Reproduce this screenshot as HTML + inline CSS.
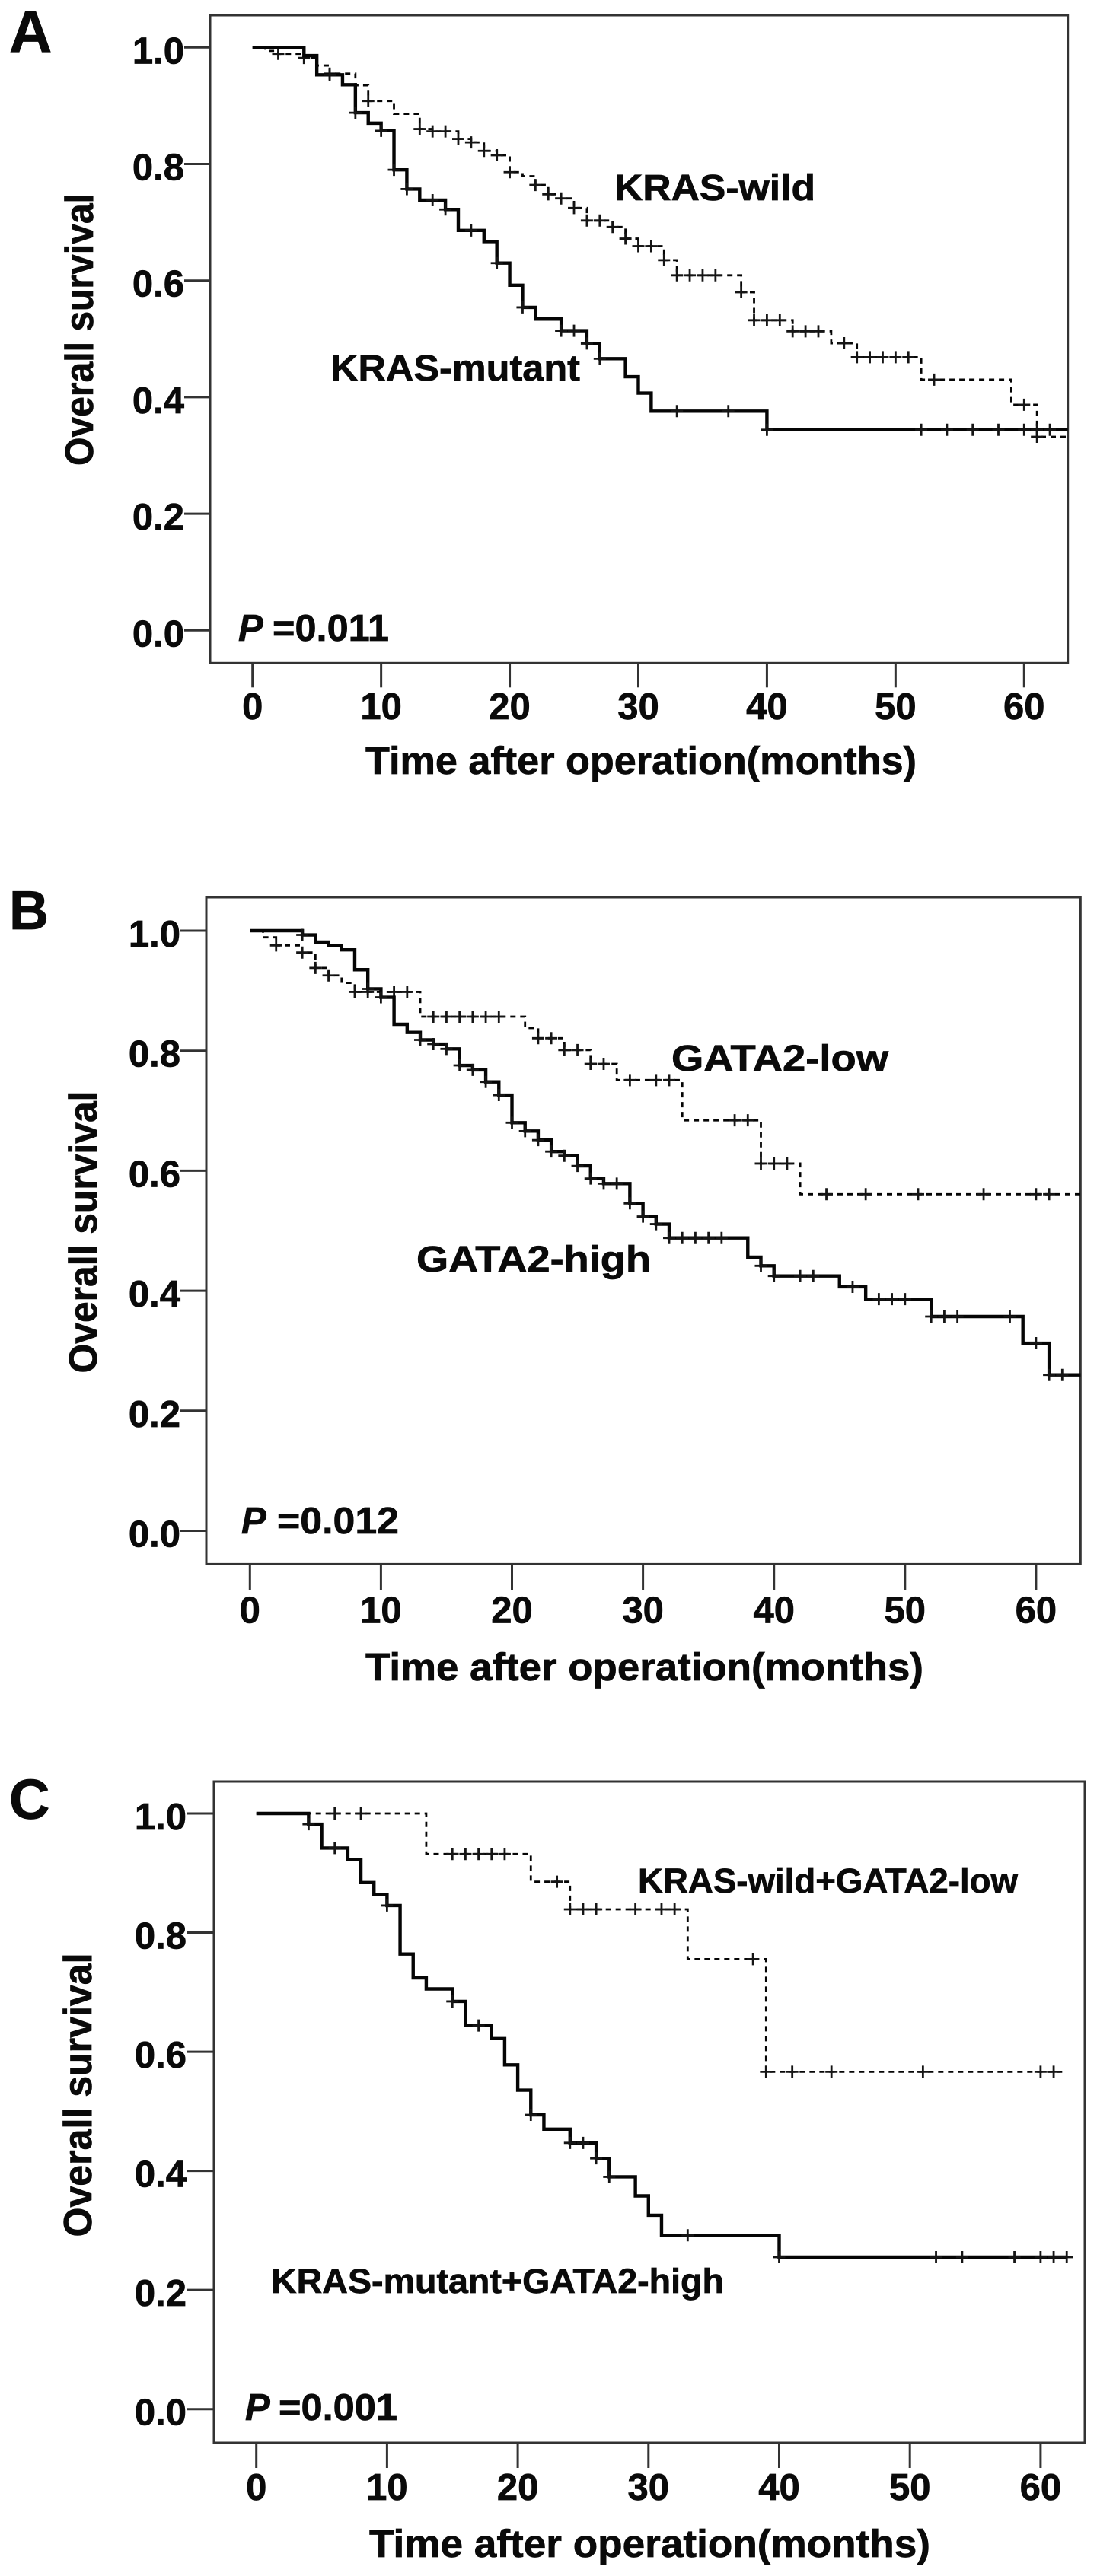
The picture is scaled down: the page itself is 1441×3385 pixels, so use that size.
<!DOCTYPE html>
<html lang="en">
<head>
<meta charset="utf-8">
<title>Overall survival Kaplan-Meier curves</title>
<style>
html,body{margin:0;padding:0;background:#fff;}
svg{display:block;}
text{font-family:"Liberation Sans",Arial,sans-serif;font-weight:700;fill:#0a0a0a;stroke:#0a0a0a;stroke-width:0.7px;}
</style>
</head>
<body>
<svg id="figure" xmlns="http://www.w3.org/2000/svg" width="1441" height="3385" viewBox="0 0 1441 3385">
  <rect x="0" y="0" width="1441" height="3385" fill="#fff"/>

  <g id="panel-a">
    <text x="12" y="68" font-size="78">A</text>
    <text transform="translate(122,433) rotate(-90)" text-anchor="middle" font-size="52" textLength="358" lengthAdjust="spacingAndGlyphs">Overall survival</text>
    <text x="480" y="1017" font-size="51" textLength="724" lengthAdjust="spacingAndGlyphs">Time after operation(months)</text>
    <text x="313" y="842" font-size="49" font-style="italic">P</text>
    <text x="358" y="842" font-size="49" textLength="153" lengthAdjust="spacingAndGlyphs">=0.011</text>
    <text x="807" y="263" font-size="48" textLength="264" lengthAdjust="spacingAndGlyphs">KRAS-wild</text>
    <text x="434" y="500" font-size="48" textLength="328" lengthAdjust="spacingAndGlyphs">KRAS-mutant</text>
  </g>

  <g id="panel-b">
    <text x="12" y="1221" font-size="72">B</text>
    <text transform="translate(127,1619) rotate(-90)" text-anchor="middle" font-size="52" textLength="371" lengthAdjust="spacingAndGlyphs">Overall survival</text>
    <text x="480" y="2208" font-size="51" textLength="733" lengthAdjust="spacingAndGlyphs">Time after operation(months)</text>
    <text x="317" y="2015" font-size="49" font-style="italic">P</text>
    <text x="364" y="2015" font-size="49" textLength="160" lengthAdjust="spacingAndGlyphs">=0.012</text>
    <text x="882" y="1407" font-size="48" textLength="285" lengthAdjust="spacingAndGlyphs">GATA2-low</text>
    <text x="547" y="1671" font-size="48" textLength="308" lengthAdjust="spacingAndGlyphs">GATA2-high</text>
  </g>

  <g id="panel-c">
    <text x="12" y="2390" font-size="74">C</text>
    <text transform="translate(120,2753) rotate(-90)" text-anchor="middle" font-size="52" textLength="373" lengthAdjust="spacingAndGlyphs">Overall survival</text>
    <text x="485" y="3360" font-size="51" textLength="737" lengthAdjust="spacingAndGlyphs">Time after operation(months)</text>
    <text x="322" y="3180" font-size="49" font-style="italic">P</text>
    <text x="366" y="3180" font-size="49" textLength="156" lengthAdjust="spacingAndGlyphs">=0.001</text>
    <text x="838" y="2487" font-size="45" textLength="499" lengthAdjust="spacingAndGlyphs">KRAS-wild+GATA2-low</text>
    <text x="356" y="3013" font-size="45" textLength="595" lengthAdjust="spacingAndGlyphs">KRAS-mutant+GATA2-high</text>
  </g>
</svg>

<script>
// Shared tick labels
const yTickValues = [0, 0.2, 0.4, 0.6, 0.8, 1.0];
const xTickValues = [0, 10, 20, 30, 40, 50, 60];

// Panel A — KRAS-mutant (solid)
const aMutantTimes = [0,4,5,7,8,9,10,11,12,13,15,16,18,19,20,21,22,24,26,27,29,30,31,40];
const aMutantSurvival = [1,.986,.953,.936,.888,.870,.857,.790,.757,.738,.722,.686,.667,.630,.592,.554,.534,.514,.492,.466,.435,.407,.376,.344];
const aMutantCensored = [6,8,10,11,12,14,15,17,19,21,24,25,26,27,33,37,40,52,54,56,58,60,61,62];
// Panel A — KRAS-wild (dashed)
const aWildTimes = [0,1,2,4,5,6,8,9,11,13,14,16,17,18,19,20,21,22,23,24,25,26,28,29,30,32,33,38,39,42,45,47,52,59,61];
const aWildSurvival = [1,.994,.989,.982,.969,.955,.935,.908,.886,.860,.856,.843,.837,.8225,.815,.786,.779,.764,.748,.741,.7245,.703,.692,.672,.659,.635,.609,.580,.532,.513,.4925,.4686,.430,.387,.332];
const aWildCensored = [2,4,6,9,13,14,15,16,17,18,19,20,22,23,24,25,26,27,28,29,30,31,32,33,34,35,36,38,39,40,41,42,43,44,46,47,48,49,50,51,53,60,61];

// Panel B — GATA2-high (solid)
const bHighTimes = [0,4,5,6,7,8,9,10,11,12,13,14,15,16,17,18,19,20,21,22,23,24,25,26,27,29,30,31,32,38,39,40,45,47,52,59,61];
const bHighSurvival = [1,.993,.981,.975,.968,.935,.903,.889,.844,.8305,.818,.811,.803,.7755,.768,.748,.726,.680,.666,.651,.632,.625,.608,.587,.5785,.5456,.5237,.511,.488,.456,.4416,.4246,.4065,.386,.357,.3126,.2597];
const bHighCensored = [4,9,10,13,14,15,16,17,18,19,20,21,22,23,24,25,26,27,28,29,30,31,32,33,34,35,36,39,40,42,43,46,48,49,50,52,53,54,58,60,61,62];
// Panel B — GATA2-low (dashed)
const bLowTimes = [0,1,2,4,5,6,7,8,13,21,22,24,26,28,33,39,42];
const bLowSurvival = [1,.989,.9755,.9636,.938,.9255,.913,.898,.8567,.8377,.8208,.801,.778,.751,.684,.612,.5608];
const bLowCensored = [2,4,5,6,8,9,11,12,14,15,16,17,18,19,22,23,24,25,26,27,29,31,32,37,38,39,40,41,44,47,51,56,60,61];

// Panel C — KRAS-mutant+GATA2-high (solid)
const cMutantTimes = [0,4,5,7,8,9,10,11,12,13,15,16,18,19,20,21,22,24,26,27,29,30,31,40];
const cMutantSurvival = [1,.982,.942,.923,.884,.864,.8455,.764,.724,.7055,.6845,.644,.622,.578,.5355,.494,.47,.447,.421,.39,.358,.3255,.2918,.2552];
const cMutantCensored = [4,6,10,15,17,21,24,25,26,27,33,40,52,54,58,60,61,62];
// Panel C — KRAS-wild+GATA2-low (dashed)
const cWildTimes = [0,13,21,24,33,39];
const cWildSurvival = [1,.932,.8855,.839,.7555,.5664];
const cWildCensored = [6,8,15,16,17,18,19,23,24,25,26,29,31,32,38,39,41,44,51,60,61];

const SVG_NS = 'http://www.w3.org/2000/svg';

function makeEl(parent, tag, attrs) {
  const node = document.createElementNS(SVG_NS, tag);
  for (const k in attrs) node.setAttribute(k, attrs[k]);
  parent.appendChild(node);
  return node;
}

function survivalAt(times, survival, t) {
  let s = survival[0];
  for (let i = 0; i < times.length; i++) {
    if (times[i] <= t) s = survival[i];
  }
  return s;
}

function drawPanel(panelId, frame, solid, dashed) {
  const group = document.getElementById(panelId);
  const xScale = t => frame.x0 + frame.pxPerMonth * t;
  const yScale = s => frame.yZero - (frame.yZero - frame.yOne) * s;

  const box = makeEl(group, 'rect', {
    x: frame.left, y: frame.top, width: frame.right - frame.left, height: frame.bottom - frame.top,
    fill: 'none', stroke: '#333', 'stroke-width': 3
  });
  
  

  yTickValues.forEach(v => {
    const tick = makeEl(group, 'line', {
      x1: frame.left - frame.yTickLen, x2: frame.left, y1: yScale(v), y2: yScale(v),
      stroke: '#333', 'stroke-width': 3
    });
    
    
    const label = makeEl(group, 'text', {
      x: frame.left - frame.yTickLen, y: yScale(v) + 21, 'text-anchor': 'end', 'font-size': 49
    });
    label.textContent = v.toFixed(1);
    
    
  });

  xTickValues.forEach(v => {
    const tick = makeEl(group, 'line', {
      x1: xScale(v), x2: xScale(v), y1: frame.bottom, y2: frame.bottom + frame.xTickLen,
      stroke: '#333', 'stroke-width': 3
    });
    
    
    const label = makeEl(group, 'text', {
      x: xScale(v), y: frame.xLabelY, 'text-anchor': 'middle', 'font-size': 49
    });
    label.textContent = String(v);
    
    
  });

  [dashed, solid].forEach(series => {
    let d = 'M' + xScale(series.times[0]) + ' ' + yScale(series.survival[0]);
    for (let i = 1; i < series.times.length; i++) {
      d += 'H' + xScale(series.times[i]) + 'V' + yScale(series.survival[i]);
    }
    d += 'H' + xScale(series.end);
    const curve = makeEl(group, 'path', {
      d: d, fill: 'none', stroke: '#050505',
      'stroke-width': series.width,
      'stroke-dasharray': series.dash || 'none',
      'stroke-linejoin': 'miter'
    });
    
    

    series.censored.forEach(t => {
      const cx = xScale(t);
      const cy = yScale(survivalAt(series.times, series.survival, t));
      const mark = makeEl(group, 'path', {
        d: 'M' + (cx - 8) + ' ' + cy + 'H' + (cx + 8) + 'M' + cx + ' ' + (cy - 8) + 'V' + (cy + 8),
        fill: 'none', stroke: '#151515', 'stroke-width': 2.8
      });
      
      
    });
  });
}

drawPanel('panel-a',
  {x0:331.7, pxPerMonth:16.893, yZero:828.3, yOne:62.3, left:276, right:1402.7, top:20, bottom:871.3, yTickLen:34, xTickLen:32, xLabelY:945},
  {name:'kras-mutant', times:aMutantTimes, survival:aMutantSurvival, censored:aMutantCensored, end:63.4, width:4.4},
  {name:'kras-wild', times:aWildTimes, survival:aWildSurvival, censored:aWildCensored, end:63.4, width:2.8, dash:'7 6'});

drawPanel('panel-b',
  {x0:328.3, pxPerMonth:17.21, yZero:2011.5, yOne:1223, left:271, right:1419.3, top:1179, bottom:2055.4, yTickLen:34, xTickLen:34, xLabelY:2132.5},
  {name:'gata2-high', times:bHighTimes, survival:bHighSurvival, censored:bHighCensored, end:63.4, width:4.4},
  {name:'gata2-low', times:bLowTimes, survival:bLowSurvival, censored:bLowCensored, end:63.4, width:2.8, dash:'7 6'});

drawPanel('panel-c',
  {x0:336.7, pxPerMonth:17.17, yZero:3165.7, yOne:2383, left:281, right:1425, top:2341, bottom:3210, yTickLen:36, xTickLen:33, xLabelY:3285},
  {name:'kras-mutant-gata2-high', times:cMutantTimes, survival:cMutantSurvival, censored:cMutantCensored, end:62, width:4.4},
  {name:'kras-wild-gata2-low', times:cWildTimes, survival:cWildSurvival, censored:cWildCensored, end:62, width:2.8, dash:'7 6'});
</script>
</body>
</html>
